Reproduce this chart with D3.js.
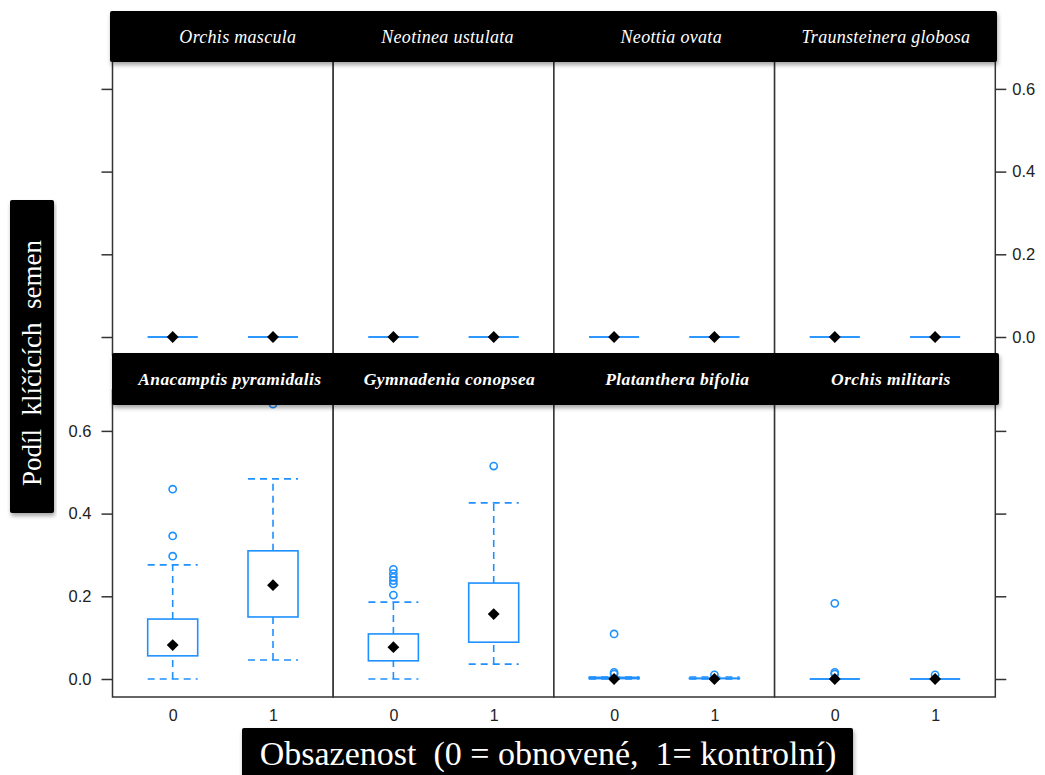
<!DOCTYPE html>
<html>
<head>
<meta charset="utf-8">
<script src="https://cdn.jsdelivr.net/npm/d3@7"></script>
<style>
body { margin: 0; background: #fff; }
svg { display: block; }
</style>
</head>
<body>
<svg id="chart" width="1045" height="775"></svg>
<script>
'use strict';

var speciesTop = ['Orchis mascula', 'Neotinea ustulata', 'Neottia ovata', 'Traunsteinera globosa'];
var speciesBottom = ['Anacamptis pyramidalis', 'Gymnadenia conopsea', 'Platanthera bifolia', 'Orchis militaris'];
var groups = ['0', '1'];
var yTicks = [0, 0.2, 0.4, 0.6];

// [lower whisker, Q1, median, Q3, upper whisker] for group 0 and group 1
var statsTop = [
	[[0, 0, 0, 0, 0], [0, 0, 0, 0, 0]],
	[[0, 0, 0, 0, 0], [0, 0, 0, 0, 0]],
	[[0, 0, 0, 0, 0], [0, 0, 0, 0, 0]],
	[[0, 0, 0, 0, 0], [0, 0, 0, 0, 0]]
];
var statsBottom = [
	[[0, 0.056, 0.082, 0.145, 0.276], [0.046, 0.150, 0.227, 0.310, 0.484]],
	[[0, 0.044, 0.077, 0.109, 0.186], [0.036, 0.089, 0.157, 0.232, 0.426]],
	[[0, 0.001, 0, 0.004, 0.005], [0, 0.001, 0, 0.002, 0.005]],
	[[0, 0, 0, 0, 0], [0, 0, 0, 0, 0]]
];
var outliersTop = [[[], []], [[], []], [[], []], [[], []]];
var outliersBottom = [
	[[0.297, 0.346, 0.459], [0.665]],
	[[0.203, 0.230, 0.238, 0.246, 0.255, 0.265], [0.515]],
	[[0.012, 0.016, 0.109], [0.010]],
	[[0.012, 0.016, 0.183], [0.010]]
];

var xLabel = 'Obsazenost  (0 = obnovené,  1= kontrolní)';
var yLabel = 'Podíl  klíčících  semen';

var blue = '#1e90ff';
var frame = '#333';
var serif = '"Liberation Serif", "Times New Roman", serif';
var sans = '"Liberation Sans", Arial, sans-serif';

var svg = d3.select('#chart');

var defs = svg.append('defs');
var shadow = defs.append('filter')
	.attr('id', 'shadow')
	.attr('x', '-5%').attr('y', '-20%')
	.attr('width', '110%').attr('height', '160%');
shadow.append('feDropShadow')
	.attr('dx', 1).attr('dy', 3)
	.attr('stdDeviation', 2)
	.attr('flood-color', '#000')
	.attr('flood-opacity', 0.35);

var colLeft = 112.5;
var colWidth = 220.7;
var pxPerUnit = 413.5;

var rows = [
	{ species: speciesTop, stats: statsTop, outliers: outliersTop, zero: 337, top: 40, bottom: 355, labels: 'right' },
	{ species: speciesBottom, stats: statsBottom, outliers: outliersBottom, zero: 679, top: 390, bottom: 697, labels: 'left' }
];

var diamond = d3.symbol().type(d3.symbolSquare).size(70);

rows.forEach(function(row, r) {
	var y = d3.scaleLinear()
		.domain([0, 0.6])
		.range([row.zero, row.zero - 0.6 * pxPerUnit]);

	row.species.forEach(function(name, c) {
		var left = colLeft + c * colWidth;
		var x = d3.scalePoint()
			.domain(groups)
			.range([left, left + colWidth])
			.padding(0.6);
		var boxW = 50;

		var panel = svg.append('g').attr('class', 'panel');

		panel.append('rect')
			.attr('x', left).attr('y', row.top)
			.attr('width', colWidth).attr('height', row.bottom - row.top)
			.attr('fill', '#fff')
			.attr('stroke', frame)
			.attr('stroke-width', 1.5);

		var box = panel.selectAll('g.box')
			.data(groups.map(function(g, i) {
				return { group: g, s: row.stats[c][i], out: row.outliers[c][i] };
			}))
			.enter().append('g')
			.attr('class', 'box')
			.attr('transform', function(d) { return 'translate(' + x(d.group) + ',0)'; });

		// whiskers
		box.append('line')
			.attr('y1', function(d) { return y(d.s[0]); })
			.attr('y2', function(d) { return y(d.s[1]); })
			.attr('stroke', blue).attr('stroke-width', 1.6)
			.attr('stroke-dasharray', '7,5');
		box.append('line')
			.attr('y1', function(d) { return y(d.s[3]); })
			.attr('y2', function(d) { return y(d.s[4]); })
			.attr('stroke', blue).attr('stroke-width', 1.6)
			.attr('stroke-dasharray', '7,5');
		[0, 4].forEach(function(k) {
			box.append('line')
				.attr('x1', -boxW / 2).attr('x2', boxW / 2)
				.attr('y1', function(d) { return y(d.s[k]); })
				.attr('y2', function(d) { return y(d.s[k]); })
				.attr('stroke', blue).attr('stroke-width', 1.6)
				.attr('stroke-dasharray', function(d) { return d.s[4] === d.s[0] ? null : '7,5'; });
		});

		// box
		box.append('rect')
			.attr('x', -boxW / 2)
			.attr('width', boxW)
			.attr('y', function(d) { return y(d.s[3]); })
			.attr('height', function(d) { return y(d.s[1]) - y(d.s[3]); })
			.attr('fill', 'none')
			.attr('stroke', blue).attr('stroke-width', 1.6);

		// outliers
		box.selectAll('circle')
			.data(function(d) { return d.out; })
			.enter().append('circle')
			.attr('cy', function(v) { return y(v); })
			.attr('r', 3.6)
			.attr('fill', 'none')
			.attr('stroke', blue).attr('stroke-width', 1.6);

		// median
		box.append('path')
			.attr('d', diamond)
			.attr('transform', function(d) { return 'translate(0,' + y(d.s[2]) + ') rotate(45)'; })
			.attr('fill', '#000');
	});

	// y axes
	var yLeft = svg.append('g')
		.attr('transform', 'translate(' + colLeft + ',0)')
		.call(d3.axisLeft(y).tickValues(yTicks).tickSize(11).tickPadding(10)
			.tickFormat(row.labels === 'left' ? d3.format('.1f') : function() { return ''; }));
	var yRight = svg.append('g')
		.attr('transform', 'translate(' + (colLeft + 4 * colWidth) + ',0)')
		.call(d3.axisRight(y).tickValues(yTicks).tickSize(11).tickPadding(6)
			.tickFormat(row.labels === 'right' ? d3.format('.1f') : function() { return ''; }));
	[yLeft, yRight].forEach(function(a) {
		a.select('.domain').remove();
		a.selectAll('.tick line').attr('stroke', frame).attr('stroke-width', 1.5);
		a.selectAll('.tick text')
			.attr('fill', '#222')
			.style('font-family', sans)
			.style('font-size', '16.5px');
	});
});

// x tick labels under the bottom row
speciesBottom.forEach(function(name, c) {
	var left = colLeft + c * colWidth;
	var x = d3.scalePoint()
		.domain(groups)
		.range([left, left + colWidth])
		.padding(0.6);
	var ax = svg.append('g')
		.attr('transform', 'translate(0,697)')
		.call(d3.axisBottom(x).tickSize(0).tickPadding(13));
	ax.select('.domain').remove();
	ax.selectAll('.tick text')
		.attr('fill', '#222')
		.style('font-family', sans)
		.style('font-size', '16px');
});

// strips
function strip(names, shifts, x0, y0, x1, y1, bold) {
	var g = svg.append('g');
	g.append('rect')
		.attr('x', x0).attr('y', y0)
		.attr('width', x1 - x0).attr('height', y1 - y0)
		.attr('rx', 2)
		.attr('fill', '#000')
		.attr('filter', 'url(#shadow)');
	g.selectAll('text')
		.data(names)
		.enter().append('text')
		.attr('x', function(d, i) { return colLeft + (i + 0.5) * colWidth + shifts[i]; })
		.attr('y', (y0 + y1) / 2 + 6)
		.attr('text-anchor', 'middle')
		.attr('fill', '#fff')
		.style('font-family', serif)
		.style('font-style', 'italic')
		.style('font-weight', bold ? 'bold' : 'normal')
		.style('font-size', bold ? '17.5px' : '18px')
		.style('letter-spacing', bold ? '0.4px' : '0.3px')
		.text(function(d) { return d; });
}
strip(speciesTop, [15, 4, 7, 1], 110, 11, 997, 62, false);
strip(speciesBottom, [7, 6, 13, 6], 112, 353, 999, 405, true);

// axis titles in black boxes
svg.append('rect')
	.attr('x', 10).attr('y', 200).attr('width', 44).attr('height', 313)
	.attr('rx', 2).attr('fill', '#000').attr('filter', 'url(#shadow)');
svg.append('text')
	.attr('transform', 'translate(32,363) rotate(-90)')
	.attr('text-anchor', 'middle')
	.attr('dominant-baseline', 'central')
	.attr('fill', '#fff')
	.style('font-family', serif)
	.style('font-size', '27px')
	.style('white-space', 'pre')
	.text(yLabel);

svg.append('rect')
	.attr('x', 242).attr('y', 728).attr('width', 611).attr('height', 60)
	.attr('rx', 2).attr('fill', '#000').attr('filter', 'url(#shadow)');
svg.append('text')
	.attr('x', 548).attr('y', 765)
	.attr('text-anchor', 'middle')
	.attr('fill', '#fff')
	.style('font-family', serif)
	.style('font-size', '34px')
	.style('white-space', 'pre')
	.text(xLabel);
</script>
</body>
</html>
